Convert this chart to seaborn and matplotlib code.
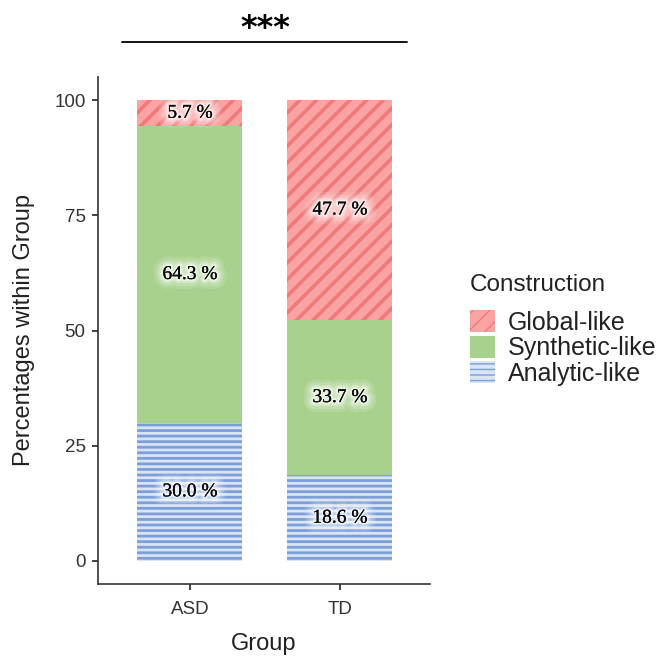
import matplotlib
matplotlib.use("Agg")
import matplotlib.pyplot as plt
import matplotlib.patches as mpatches
import matplotlib.patheffects as pe
import seaborn as sns
import numpy as np
import pandas as pd

groups = ["ASD", "TD"]
constructions = ["Global-like", "Synthetic-like", "Analytic-like"]
analytic = [30.0, 18.6]
synthetic = [64.3, 33.7]
global_like = [5.7, 47.7]
yticks = [0, 25, 50, 75, 100]

sns.set_theme(style="ticks")
plt.rcParams["font.family"] = ["Liberation Sans", "DejaVu Sans"]

styles = {
    "Analytic-like": dict(face="#D9E4F5", hatch_color="#7C9FD7", hatch="---", hlw=2.0),
    "Synthetic-like": dict(face="#A9D18E", hatch_color="#A9D18E", hatch="", hlw=0.5),
    "Global-like": dict(face="#F9A3A3", hatch_color="#F07A7A", hatch="//", hlw=2.6),
}

df = pd.DataFrame({"Group": groups, "Analytic-like": analytic,
                   "Synthetic-like": synthetic, "Global-like": global_like})
df["cum_analytic"] = df["Analytic-like"]
df["cum_synthetic"] = df["cum_analytic"] + df["Synthetic-like"]
df["cum_global"] = df["cum_synthetic"] + df["Global-like"]

fig = plt.figure(figsize=(6.59, 6.57), dpi=100)
ax = fig.add_axes([98/659, 1-584/657, (430-98)/659, (584-77)/657])

layers = [("Global-like", "cum_global"), ("Synthetic-like", "cum_synthetic"),
          ("Analytic-like", "cum_analytic")]
for name, col in layers:
    st = styles[name]
    n_before = len(ax.patches)
    with plt.rc_context({"hatch.linewidth": st["hlw"]}):
        sns.barplot(data=df, x="Group", y=col, order=groups, color=st["face"],
                    saturation=1, width=0.7, hatch=st["hatch"],
                    edgecolor=st["hatch_color"], linewidth=0, ax=ax)
    for p in ax.patches[n_before:]:
        if hasattr(p, "set_hatch_linewidth"):
            p.set_hatch_linewidth(st["hlw"])

# labels with soft white glow
glow = [pe.withStroke(linewidth=14, foreground="white", alpha=0.12),
        pe.withStroke(linewidth=10, foreground="white", alpha=0.18),
        pe.withStroke(linewidth=6, foreground="white", alpha=0.3),
        pe.withStroke(linewidth=3, foreground="white", alpha=0.5),
        pe.Normal()]
for i in range(len(groups)):
    bottoms = [0, df["cum_analytic"][i], df["cum_synthetic"][i]]
    vals = [analytic[i], synthetic[i], global_like[i]]
    for b, v in zip(bottoms, vals):
        ax.text(i, b + v/2, f"{v:.1f} %", ha="center", va="center",
                fontsize=14, family=["Liberation Serif", "DejaVu Serif"],
                color="#0a0a0a", path_effects=glow)

ax.set_xlim(-0.613, 1.6)
ax.set_ylim(-5, 105)
ax.set_yticks(yticks)
ax.set_yticklabels([str(t) for t in yticks])
ax.tick_params(axis="both", labelsize=13.5, length=4, width=1.2, color="#222222",
               labelcolor="#333333")
ax.tick_params(axis="x", pad=8)
ax.tick_params(axis="y", pad=5)
for s in ["top", "right"]:
    ax.spines[s].set_visible(False)
for s in ["left", "bottom"]:
    ax.spines[s].set_color("#333333")
    ax.spines[s].set_linewidth(1.2)
ax.set_xlabel("Group", fontsize=17, color="#222222", labelpad=11)
ax.set_ylabel("Percentages within Group", fontsize=17, color="#222222", labelpad=14)

# significance bracket
ax.plot([-0.453, 1.447], [112.6, 112.6], color="black", lw=1.3, clip_on=False)
ax.text(0.5, 115.6, "***", ha="center", va="center", fontsize=23,
        fontweight="bold", family=["DejaVu Sans"], color="black", clip_on=False)

# legend
fig.text(470/659, 1-285/657, "Construction", ha="left", va="center",
         fontsize=17.5, color="#222222")
handles = []
for name in constructions:
    st = styles[name]
    with plt.rc_context({"hatch.linewidth": st["hlw"]}):
        h = mpatches.Patch(facecolor=st["face"], edgecolor=st["hatch_color"],
                           hatch=st["hatch"], linewidth=0, label=name)
    if hasattr(h, "set_hatch_linewidth"):
        h.set_hatch_linewidth(st["hlw"])
    handles.append(h)
leg = fig.legend(handles=handles, loc="upper left",
                 bbox_to_anchor=(470/659, 1-310/657), bbox_transform=fig.transFigure,
                 frameon=False, fontsize=18, handlelength=1.0,
                 handleheight=1.0, handletextpad=0.5, labelspacing=0.03,
                 borderpad=0, borderaxespad=0)
for t in leg.get_texts():
    t.set_color("#222222")

fig.savefig("out.png", dpi=100)
